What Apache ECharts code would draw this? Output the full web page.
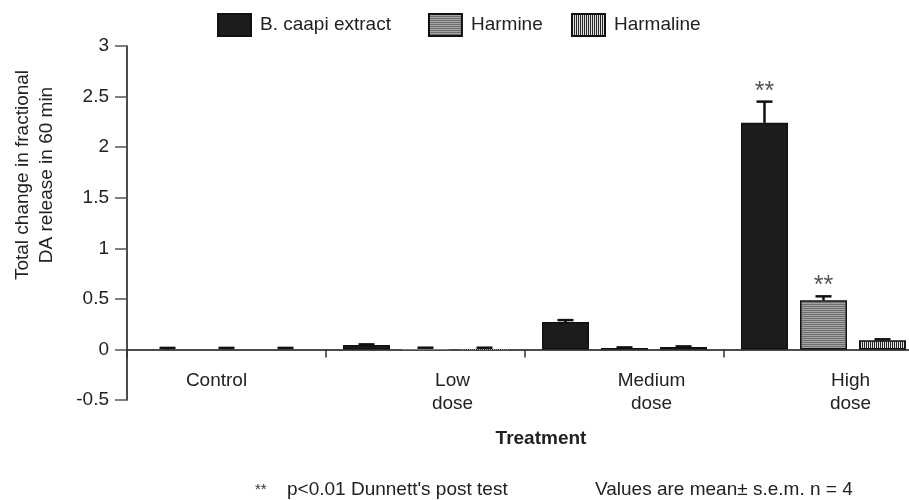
<!DOCTYPE html>
<html>
<head>
<meta charset="utf-8">
<script src="https://cdn.jsdelivr.net/npm/echarts@6/dist/echarts.min.js"></script>
<style>
  html, body { margin: 0; padding: 0; background: #fff; }
  #chart { width: 909px; height: 500px; }
</style>
</head>
<body>
<div id="chart"></div>
<script>
// values (mean and s.e.m.)
const categories = ['Control', 'Low\ndose', 'Medium\ndose', 'High\ndose'];
const seriesNames = ['B. caapi extract', 'Harmine', 'Harmaline'];
const caapiMean = [0, 0.045, 0.27, 2.24];
const caapiSem = [0.015, 0.005, 0.02, 0.21];
const harmineMean = [0, 0.005, 0.015, 0.485];
const harmineSem = [0.015, 0.012, 0.005, 0.04];
const harmalineMean = [0, 0.005, 0.025, 0.09];
const harmalineSem = [0.015, 0.012, 0.005, 0.01];
const caapiSig = ['', '', '', '**'];
const harmineSig = ['', '', '', '**'];
const harmalineSig = ['', '', '', ''];
const yTicks = [-0.5, 0, 0.5, 1, 1.5, 2, 2.5, 3];

const FONT = "'Liberation Sans', Arial, Helvetica, sans-serif";

// fill patterns for the grey bars
function makePattern(w, h, paint) {
  const c = document.createElement('canvas');
  c.width = w; c.height = h;
  paint(c.getContext('2d'));
  return { image: c, repeat: 'repeat' };
}
const harminePattern = makePattern(2, 2, ctx => {
  ctx.fillStyle = '#a4a4a4'; ctx.fillRect(0, 0, 2, 2);
  ctx.fillStyle = '#6f6f6f'; ctx.fillRect(0, 0, 2, 1);
});
const harmalinePattern = makePattern(2, 2, ctx => {
  ctx.fillStyle = '#e2e2e2'; ctx.fillRect(0, 0, 2, 2);
  ctx.fillStyle = '#262626'; ctx.fillRect(0, 0, 1, 2);
});

const means = [caapiMean, harmineMean, harmalineMean];
const sems = [caapiSem, harmineSem, harmalineSem];
const sigs = [caapiSig, harmineSig, harmalineSig];

const errData = [];
means.forEach((m, s) => {
  m.forEach((v, i) => errData.push([i, s, v, sems[s][i]]));
});

// near-zero bars show no outline in the original, only their error cap
const barData = m => m.map(v => (v < 0.01 ? { value: v, itemStyle: { borderWidth: 0 } } : v));

const BAR_W = 47, BAR_GAP = 12;
const GRID_TOP = 46, GRID_BOTTOM = 100;
const plotH = 500 - GRID_TOP - GRID_BOTTOM;
// move the category axis up from the grid bottom to the zero line
const zeroOffset = -plotH * (0 - yTicks[0]) / (yTicks[yTicks.length - 1] - yTicks[0]);

const chart = echarts.init(document.getElementById('chart'));

const barStyle = fill => ({ color: fill, borderColor: '#111', borderWidth: 1.5 });
const legendText = { fontSize: 19, color: '#222', padding: [0, 0, 0, 4] };

chart.setOption({
  animation: false,
  textStyle: { fontFamily: FONT },
  legend: [
    {
      left: 217, top: 13, padding: 0,
      itemWidth: 33, itemHeight: 22, itemGap: 37,
      icon: 'rect', textStyle: legendText,
      data: seriesNames.slice(0, 2)
    },
    {
      left: 571, top: 13, padding: 0,
      itemWidth: 33, itemHeight: 22,
      icon: 'rect', textStyle: legendText,
      data: seriesNames.slice(2)
    }
  ],
  grid: { left: 127, top: GRID_TOP, bottom: GRID_BOTTOM, right: -14, outerBoundsMode: 'none' },
  xAxis: {
    type: 'category',
    data: categories,
    offset: zeroOffset,
    axisLine: { onZero: false, lineStyle: { color: '#111', width: 1.5 } },
    axisTick: { show: true, interval: 0, alignWithLabel: false, inside: false, length: 8, lineStyle: { color: '#333', width: 1.5 } },
    axisLabel: {
      margin: 20,
      interval: 0,
      formatter: (val, idx) => val.split('\n').map(t => (idx === 0 ? '{l|' : '{r|') + t + '}').join('\n'),
      rich: {
        l: { fontSize: 19, lineHeight: 23, color: '#222', padding: [0, 20, 0, 0], fontFamily: FONT },
        r: { fontSize: 19, lineHeight: 23, color: '#222', padding: [0, 0, 0, 54], fontFamily: FONT }
      }
    }
  },
  yAxis: {
    type: 'value',
    min: yTicks[0], max: yTicks[yTicks.length - 1], interval: 0.5,
    axisLine: { show: true, onZero: false, lineStyle: { color: '#111', width: 1.5 } },
    axisTick: { show: true, length: 12, lineStyle: { color: '#555', width: 1.5 } },
    axisLabel: { fontSize: 19, color: '#222', margin: 18 },
    splitLine: { show: false }
  },
  graphic: [
    {
      type: 'text', x: 35, y: 175, rotation: Math.PI / 2,
      style: {
        text: 'Total change in fractional\nDA release in 60 min',
        font: '19px ' + FONT, fill: '#222', lineHeight: 24,
        align: 'center', verticalAlign: 'middle'
      }
    },
    {
      type: 'text', x: 541, y: 439,
      style: { text: 'Treatment', font: 'bold 19px ' + FONT, fill: '#222', align: 'center', verticalAlign: 'middle' }
    },
    {
      type: 'text', x: 255, y: 490,
      style: { text: '**', font: '15px ' + FONT, fill: '#333', align: 'left', verticalAlign: 'middle' }
    },
    {
      type: 'text', x: 287, y: 490,
      style: { text: "p<0.01 Dunnett's post test", font: '19px ' + FONT, fill: '#222', align: 'left', verticalAlign: 'middle' }
    },
    {
      type: 'text', x: 595, y: 490,
      style: { text: 'Values are mean\u00b1 s.e.m. n = 4', font: '19px ' + FONT, fill: '#222', align: 'left', verticalAlign: 'middle' }
    }
  ],
  series: [
    { name: seriesNames[0], type: 'bar', data: barData(caapiMean), barWidth: BAR_W, barGap: (BAR_GAP / BAR_W * 100) + '%', itemStyle: barStyle('#1c1c1c') },
    { name: seriesNames[1], type: 'bar', data: barData(harmineMean), barWidth: BAR_W, barGap: (BAR_GAP / BAR_W * 100) + '%', itemStyle: barStyle(harminePattern) },
    { name: seriesNames[2], type: 'bar', data: barData(harmalineMean), barWidth: BAR_W, barGap: (BAR_GAP / BAR_W * 100) + '%', itemStyle: barStyle(harmalinePattern) },
    {
      type: 'custom',
      data: errData,
      z: 5,
      silent: true,
      encode: { x: 0, y: 2 },
      renderItem: (params, api) => {
        const cat = api.value(0), s = api.value(1), mean = api.value(2), err = api.value(3);
        const cx = api.coord([cat, 0])[0] + (s - 1) * (BAR_W + BAR_GAP);
        const yMean = api.coord([cat, mean])[1];
        const yTop = api.coord([cat, mean + err])[1];
        const ln = { stroke: '#111', lineWidth: 2.5 };
        const children = [
          { type: 'line', shape: { x1: cx, y1: yMean, x2: cx, y2: yTop }, style: ln },
          { type: 'line', shape: { x1: cx - 8, y1: yTop, x2: cx + 8, y2: yTop }, style: ln }
        ];
        const sig = sigs[s][cat];
        if (sig) {
          children.push({
            type: 'text', x: cx, y: yTop - 10,
            style: { text: sig, font: '25px ' + FONT, fill: '#555', align: 'center', verticalAlign: 'middle' }
          });
        }
        return { type: 'group', children };
      }
    }
  ]
});
</script>
</body>
</html>
